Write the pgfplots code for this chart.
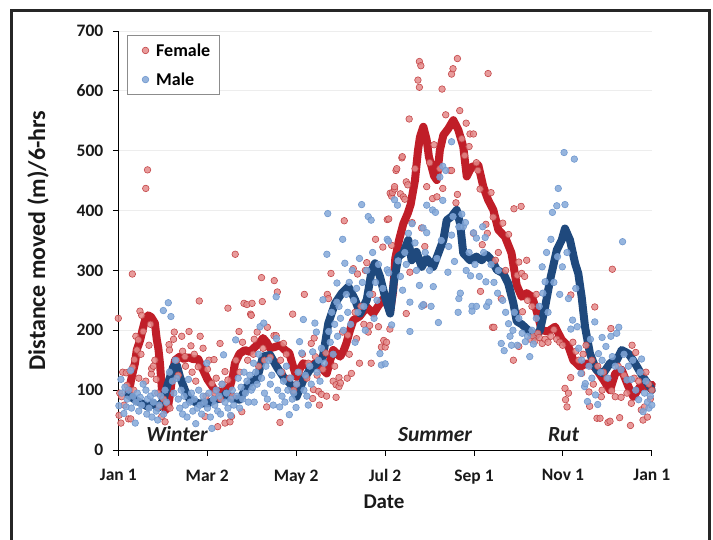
\documentclass[border=0pt]{standalone}
\usepackage{fontspec}
\setmainfont{Carlito}
\usepackage{pgfplots}
\pgfplotsset{compat=1.18}
\definecolor{femline}{RGB}{192,30,40}
\definecolor{maleline}{RGB}{31,73,125}
\definecolor{femfill}{RGB}{228,138,138}
\definecolor{femedge}{RGB}{196,70,72}
\definecolor{malefill}{RGB}{132,168,216}
\definecolor{maleedge}{RGB}{112,152,206}
\begin{document}
\begin{tikzpicture}[x=1pt,y=1pt]
\useasboundingbox (0,0) rectangle (713,539);
\draw[line width=2.5pt, color=black!85] (11.3,-5) -- (11.3,528.7) -- (709.5,528.7) -- (709.5,-5);
\begin{axis}[
  at={(118.3pt,89pt)}, anchor=south west,
  scale only axis, width=533.5pt, height=419pt,
  xmin=0, xmax=365, ymin=0, ymax=700,
  axis x line*=bottom, axis y line*=left,
  x axis line style={-}, y axis line style={-},
  axis line style={line width=1pt, black},
  clip=false,
  xtick={0,60.833,121.667,182.5,243.333,304.167,365},
  xticklabels={Jan 1,Mar 2,May 2,Jul 2,Sep 1,Nov 1,Jan 1},
  ytick={0,100,...,700},
  tick align=outside, major tick length=5.5pt,
  tick style={black, line width=0.8pt},
  /pgf/number format/assume math mode=true,
  ticklabel style={font=\fontsize{17.5}{19}\selectfont\bfseries, color=black!90},
  xticklabel style={yshift=-10.5pt},
  yticklabel style={xshift=-6pt},
  ymajorgrids, major grid style={color=black!7, line width=0.8pt},
  legend image code/.code={\path (-8.7pt,0pt); \draw[#1] plot coordinates {(0pt,0pt)};},
  legend style={at={(rel axis cs:0.0163,0.9905)}, anchor=north west,
    font=\fontsize{18}{21}\selectfont\bfseries, draw=black!45, line width=0.8pt,
    fill=white, inner xsep=9pt, inner ysep=8pt, row sep=15pt, column sep=7.4pt,
    nodes={inner sep=0pt}},
  legend cell align=left,
]
\addplot[only marks, mark=*, mark size=3.3pt, mark options={fill=femfill, draw=femedge, line width=0.6pt, fill opacity=0.85}] coordinates {
(0,220) (0.5,58) (1,95) (1.8,45) (2.3,89) (3,130) (4,75) (5.4,129) (6,108) (7,52) (8,131) (8.5,52) (9.6,294) (9.8,138) (10.5,100) (11,151) (12,190) (12.8,167) (13.7,184) (14,120) (14.8,232) (15.5,160) (16,225) (17,198) (18.8,437) (18.8,115) (20,468) (21,175) (22,210) (22.6,127) (22.8,136) (24,140) (25,150) (26,118) (27,95) (28,72) (29.7,56) (31,85) (32,47) (33,78) (35.4,70) (34.7,176) (35,167) (37.8,185) (38.3,197) (40,150) (41,125) (43.4,190) (44,165) (45.6,156) (46,140) (48.4,198) (49.7,174) (50.5,130) (52,160) (53,115) (54.7,139) (55.4,249) (56,190) (58,170) (59.3,56) (60,90) (61,135) (62,150) (64,111) (65.5,151) (66,95) (67,120) (68,39) (69.6,178) (70,85) (71,110) (73,131) (73,45) (75,117) (75,237) (76.4,47) (77.5,56) (78,90) (80,327) (80.5,150) (82.6,198) (83,130) (84.5,64) (85,180) (86,245) (88,243) (88.5,150) (90.5,227) (91.5,245) (91,225) (92.4,160) (93,185) (95,197) (96,140) (98,288) (98.5,248) (99,170) (100,150) (101.5,72) (102,205) (104,155) (106.5,191) (106.7,283) (108,191) (108.8,264) (110.6,46) (111,150) (112,130) (113,178) (115,160) (117,120) (119.3,227) (120,100) (122,110) (124,130) (126,160) (127.3,260) (129,120) (130,145) (132,178) (133,86) (133.5,101) (134,187) (134.8,156) (136,125) (137,98) (137.6,75) (139,93) (140,135) (142,162) (142.5,90) (143,260) (143.8,253) (145.5,295) (147,115) (148,140) (149,88) (149,109) (151,106) (151,121) (152,112) (153.4,197) (154.6,383) (156.6,120) (157,192) (158,160) (159.5,128) (160.8,303) (162,230) (163,186) (163.7,294) (165,145) (166,240) (168,210) (169,300) (170,313) (171,197) (172,208) (173,145) (174,260) (176,352) (178,206) (180,172) (181,339) (181.6,183) (182.6,172) (183.5,180) (184,385) (185,386) (185.8,202) (186,429) (187,342) (187,424) (187.5,430) (189,436) (189,440) (190,467) (190.5,470) (193,428) (194,488) (194.3,490) (195,423) (196,419) (197,228) (197,448) (198,443) (199,553) (199.5,297) (201,380) (203,470) (205,618) (206,606) (206,649) (207,642) (207.5,371) (209,242) (209.7,340) (211,440) (213,480) (215,420) (216,510) (218,423) (220,470) (221.5,603) (222,437) (224,560) (227,467) (228,467) (228,628) (229,637) (231,413) (232,427) (232,654) (233.6,567) (235,520) (237,492) (238,546) (240,507) (240.6,528) (243,528) (243,362) (245,480) (246,467) (247.5,436) (247.8,265) (249,343) (251.5,377) (252.5,362) (253,629) (255,430) (256,205) (256.5,389) (257,205) (258,317) (260,330) (262,253) (263,379) (265,300) (267,360) (270.3,150) (270.7,403) (273,292) (274,314) (274,173) (275.6,407) (276,295) (276.5,231) (278,290) (279.4,317) (280,250) (282,185) (283,240) (284,190) (285,182) (286,260) (287,195) (288,188) (290,178) (292,185) (294,180) (296,190) (298,201) (300,185) (302,180) (304,175) (305.6,103) (306,84) (307,72) (308,95) (309.5,121) (309.6,259) (311,180) (313,165) (315,150) (317,128) (318,160) (320,175) (322,97) (322.5,73) (324,150) (325,110) (326,239) (327.5,53) (328,140) (329.6,53) (330.5,89) (331,100) (332,130) (334,120) (335,46) (336.4,48) (337,203) (337.5,99) (338,302) (340,89) (342,140) (343,54) (344,88) (346,125) (348,95) (350.4,41) (351,78) (351.5,175) (353,120) (354,163) (356,115) (357.8,67) (359,50) (360,72) (361,130) (362,55) (363,110) (364,85) (365,100)
};
\addlegendentry{Female}
\addplot[only marks, mark=*, mark size=3.3pt, mark options={fill=malefill, draw=maleedge, line width=0.6pt, fill opacity=0.85}] coordinates {
(0.4,74) (1.8,118) (2.5,95) (3.8,61) (4.5,105) (5.4,72) (6,85) (7,100) (8.5,133) (9,70) (10,90) (11.6,45) (12,80) (13,95) (14,65) (15,88) (16,75) (17,110) (18.9,100) (19.5,60) (20,85) (21,70) (22,90) (23,55) (24,80) (25,95) (26,65) (27,50) (28,75) (29,90) (30.8,233) (31,60) (32,100) (33,80) (34.2,246) (35,130) (36,223) (37,115) (38,95) (39,150) (40,120) (41,85) (42,70) (43,100) (44,60) (45,90) (46,75) (47,55) (48,118) (49,80) (50,95) (51,65) (52,85) (53,44) (54,70) (55,100) (56,75) (57,60) (58,90) (59,80) (60.5,145) (61,70) (62,95) (63,55) (64,36) (65,85) (66,75) (67,100) (68,65) (69,90) (70,60) (71,110) (72,159) (73,80) (74,95) (75,70) (76.8,58) (77,85) (78,100) (79,75) (80.3,184) (81,90) (82,120) (83,70) (84,105) (85,85) (86,130) (87,95) (88,115) (89,80) (90,125) (91,100) (92.5,145) (92,105) (93,80) (94,130) (95,110) (96,160) (97,206) (98,120) (99.5,212) (100,95) (101,140) (102,85) (103,150) (104,110) (105,125) (106,75) (108,256) (108.2,186) (109,100) (110.4,72) (111,130) (112,90) (113,115) (114,80) (115,140) (116,100) (117,59) (118,120) (119,85) (120,95) (121.6,71) (122,110) (123,130) (124,181) (125.5,162) (126.6,218) (127,100) (128,125) (129,90) (130,75) (131,140) (132,110) (133,164) (134.5,212) (135.5,197) (136,130) (137,150) (138,115) (139,170) (140,251) (141,145) (142.7,327) (143.3,395) (144,198) (145,180) (146,230) (147,160) (148,210) (149.5,247) (149.6,279) (150,190) (151,240) (152,220) (153.5,352) (154,200) (155,312) (156,260) (157,230) (158,280) (159,210) (160,300) (161,250) (162,180) (163,270) (164,230) (165,320) (166.5,410) (167,280) (168,240) (169,200) (170,300) (171,390) (172,260) (173,384) (174,330) (175,220) (176,280) (177,250) (178,310) (179,161) (180,142) (181,270) (182.6,144) (184,352) (184,301) (184.8,349) (185,296) (187,209) (189,418) (191,409) (191.5,316) (193,290) (194.5,267) (196,330) (197,310) (198.5,362) (199.5,198) (199.5,247) (201,378) (203,346) (204,300) (206,275) (207.6,240) (208.5,371) (208.7,243) (210,330) (211,409) (211,363) (213,300) (214,240) (215,401) (215.5,273) (217,397) (218,320) (219,213) (220,456) (221,350) (222,474) (222,417) (224,467) (225.5,297) (226,340) (228,515) (228,359) (229,390) (230,315) (232.5,230) (233,253) (233,373) (234,262) (235,394) (236,373) (237.5,380) (238,300) (240,330) (241,291) (242,240) (242,232) (243,363) (244,310) (245,354) (245,240) (247,290) (249.3,373) (250,330) (251,355) (251.5,281) (252,240) (253.5,247) (255,310) (257,280) (259.5,262) (260,300) (262,178) (263,250) (264,166) (265,230) (267,211) (268,190) (269,175) (270,200) (271,230) (273,175) (274,220) (276.3,195) (278.5,181) (280,190) (281.5,156) (283,200) (284,177) (286,220) (288,240) (290,306) (290.5,262) (292,281) (293,330) (294,230) (296,352) (297,397) (298,280) (300,408) (300.5,323) (301,437) (302,260) (303.8,306) (305,497) (305.6,410) (307,330) (308,253) (309.6,202) (310.8,217) (312,486) (313,270) (314,206) (315,170) (316.5,128) (317,150) (319,106) (319.5,111) (321,81) (322,140) (323,185) (324,120) (326,214) (326.5,92) (328,76) (328.5,161) (330,130) (331,188) (331,150) (333.6,173) (335,120) (337,190) (338,156) (340,140) (341,195) (342.4,205) (344,134) (345,348) (346,160) (348,117) (349,140) (351,118) (352,150) (354,100) (356,84) (357,130) (358,152) (359,64) (360,95) (361,115) (362,80) (363,70) (364,90) (365,75)
};
\addlegendentry{Male}
\addplot[forget plot, color=femline, line width=8pt, line join=round, line cap=round] coordinates {
(6.8,92) (9,120) (11.4,145) (12.6,167) (15,184) (16.5,200) (18.3,217) (20.5,225) (22.5,222) (25,212) (26.3,185) (27.4,170) (28.5,145) (29.7,106) (31,80) (32.5,67) (34,72) (35.5,95) (37,125) (38.8,150) (42,156) (45,152) (48,155) (51,152) (54.7,152) (58,134) (61,118) (62.7,112) (66,100) (70,97) (71.8,95) (74,100) (76.4,106) (78.5,125) (79.8,145) (83,161) (86.7,167) (90,164) (94.7,175) (97,180) (99,187) (101.5,180) (103.8,170) (107,172) (110.6,175) (114,167) (117,162) (119.5,140) (122,122) (124,135) (126.6,145) (131,139) (134.6,145) (138,139) (142.6,128) (145,150) (147,167) (151.7,156) (154,165) (156,178) (158.5,200) (160.8,217) (165,223) (170,239) (174.5,228) (179,245) (181,252) (183.6,245) (186,232) (188,265) (189.5,320) (192,350) (195,378) (198,395) (200,410) (203,451) (205,500) (206.4,523) (208.7,540) (211,518) (212.5,490) (214.4,473) (216,458) (217.9,451) (220,501) (222.4,526) (225.8,537) (229.2,551) (232.6,535) (236,507) (238.4,457) (240,465) (241.8,473) (246.3,476) (249.7,440) (253,418) (256.6,401) (260,368) (264.6,356) (269,329) (272.6,275) (276,256) (279.4,262) (283,256) (286,234) (289.7,200) (294,198) (298.8,206) (303.4,184) (308,173) (311.3,150) (316,139) (320.5,145) (326,139) (332,117) (336.4,100) (340,128) (344.4,134) (349,106) (352.4,89) (357,106) (361.5,106) (365,109)
};
\addplot[forget plot, color=maleline, line width=8pt, line join=round, line cap=round] coordinates {
(6.8,92) (11.4,84) (16,78) (20.5,72) (24,78) (27.4,70) (30.8,84) (34,111) (37.6,139) (40,142) (42.2,122) (45.6,100) (49,84) (54.7,78) (61.6,78) (66,84) (70.7,86) (74,95) (77.6,86) (83,84) (87.9,106) (92.4,117) (94.7,117) (99,156) (103.8,159) (108.4,139) (113,122) (117.5,111) (122,89) (126.6,117) (131,134) (135.8,145) (140,156) (143.7,212) (148.3,245) (152.9,262) (157.4,273) (162,251) (165.4,228) (170,251) (173.4,301) (175.6,312) (179,290) (182.5,256) (186,228) (188.5,280) (191.6,323) (195,329) (198.4,351) (200.7,317) (204,331) (207.6,306) (211,320) (215.5,306) (219,329) (222.4,351) (224.7,384) (228,390) (231.5,401) (233.8,379) (236,329) (240.6,317) (245,323) (248.6,317) (252,326) (255.5,317) (259,301) (263.4,295) (266.8,278) (270.3,245) (272.6,215) (276,210) (280.5,200) (285,189) (288.5,200) (292,239) (295.4,284) (300,334) (303.4,351) (305.6,370) (309,351) (312.5,312) (314.7,295) (317,256) (319.3,206) (322.7,161) (327,134) (331.8,128) (336.4,145) (341,150) (344.4,167) (349,161) (353.5,145) (359,122) (363.7,106) (365,100)
};
\node[anchor=base, font=\fontsize{21.5}{24}\selectfont\bfseries\itshape, text=black!88,
  fill=white, fill opacity=0.55, text opacity=1, minimum width=72pt, inner ysep=2pt] at (axis cs:40.2,13.4) {Winter};
\node[anchor=base, font=\fontsize{21.5}{24}\selectfont\bfseries\itshape, text=black!88] at (axis cs:216.7,13.4) {Summer};
\node[anchor=base, font=\fontsize{21.5}{24}\selectfont\bfseries\itshape, text=black!88] at (axis cs:304.6,13.4) {Rut};
\end{axis}
\node[rotate=90, font=\fontsize{24}{26}\selectfont\bfseries, text=black!90] at (38,298.5) {Distance moved (m)/6-hrs};
\node[font=\fontsize{21}{24}\selectfont\bfseries, text=black!90] at (384,37) {Date};
\end{tikzpicture}
\end{document}
